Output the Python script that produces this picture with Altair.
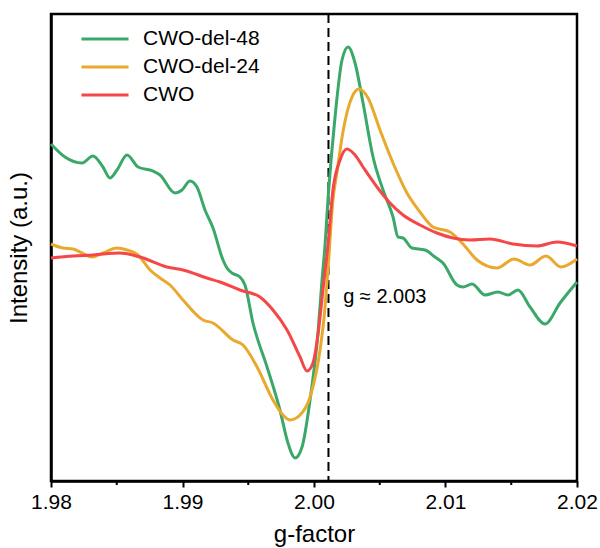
import altair as alt
import pandas as pd

# ---- data (g-factor, intensity a.u.) ----
g_48 = [1.98000, 1.98106, 1.98236, 1.98319, 1.98395, 1.98449, 1.98502, 1.98578, 1.98662, 1.98776,
        1.98829, 1.98943, 1.98996, 1.99057, 1.99110, 1.99171, 1.99232, 1.99308, 1.99338, 1.99376,
        1.99437, 1.99475, 1.99536, 1.99643, 1.99741, 1.99802, 1.99856, 1.99909, 1.99970, 2.00030,
        2.00061, 2.00084, 2.00106, 2.00160, 2.00213, 2.00259, 2.00312, 2.00373, 2.00449, 2.00525,
        2.00601, 2.00639, 2.00677, 2.00745, 2.00844, 2.00920, 2.00981, 2.01087, 2.01133, 2.01202,
        2.01300, 2.01399, 2.01475, 2.01551, 2.01643, 2.01757, 2.01871, 2.02000]
i_48 = [337, 324, 318, 325, 314, 303, 311, 326, 314, 310,
        306, 288, 291, 300, 294, 271, 253, 221, 213, 208,
        204, 196, 158, 114, 71, 38, 23, 34, 81, 148,
        201, 236, 281, 364, 421, 434, 418, 378, 324, 291,
        264, 244, 243, 233, 231, 224, 218, 196, 194, 197,
        186, 189, 186, 191, 174, 157, 178, 199]

g_24 = [1.98000, 1.98091, 1.98167, 1.98236, 1.98312, 1.98395, 1.98502, 1.98578, 1.98662, 1.98753,
        1.98829, 1.98905, 1.99004, 1.99156, 1.99232, 1.99384, 1.99460, 1.99567, 1.99688, 1.99764,
        1.99817, 1.99894, 1.99970, 2.00046, 2.00076, 2.00106, 2.00144, 2.00175, 2.00220, 2.00289,
        2.00342, 2.00411, 2.00502, 2.00601, 2.00707, 2.00806, 2.00905, 2.01034, 2.01133, 2.01240,
        2.01392, 2.01521, 2.01643, 2.01764, 2.01878, 2.02000]
i_24 = [237, 233, 232, 228, 224, 228, 233, 231, 226, 211,
        203, 196, 181, 161, 158, 141, 136, 114, 81, 66,
        61, 66, 84, 131, 163, 211, 281, 309, 349, 384,
        392, 383, 351, 318, 288, 269, 254, 249, 237, 221,
        213, 222, 216, 225, 214, 222]

g_cwo = [1.98000, 1.98167, 1.98319, 1.98525, 1.98677, 1.98882, 1.99004, 1.99186, 1.99285, 1.99437,
         1.99589, 1.99688, 1.99795, 1.99894, 1.99947, 1.99992, 2.00030, 2.00068, 2.00106, 2.00144,
         2.00198, 2.00251, 2.00312, 2.00373, 2.00479, 2.00578, 2.00677, 2.00806, 2.00935, 2.01057,
         2.01186, 2.01338, 2.01513, 2.01696, 2.01848, 2.02000]
i_cwo = [223, 225, 226, 228, 224, 214, 211, 203, 199, 191,
         184, 171, 151, 124, 110, 118, 146, 191, 236, 291,
         321, 332, 326, 314, 294, 278, 266, 256, 248, 243,
         241, 242, 237, 235, 239, 235]

series_names = ["CWO-del-48", "CWO-del-24", "CWO"]
series_colors = ["#3aa868", "#e8a92c", "#f54747"]

x_ticks = [1.98, 1.99, 2.00, 2.01, 2.02]
x_minor = [1.985, 1.995, 2.005, 2.015]
g_marker = [2.0011]
note_text = ["g \u2248 2.003"]
note_g = [2.00222]
note_i = [184]

rows = []
for name, gs, vs in zip(series_names, [g_48, g_24, g_cwo], [i_48, i_24, i_cwo]):
    for k, (g, v) in enumerate(zip(gs, vs)):
        rows.append({"series": name, "g": g, "I": v, "order": k})
df = pd.DataFrame(rows)

FONT = "Liberation Sans"
xscale = alt.Scale(domain=[1.98, 2.02], nice=False, zero=False)
yscale = alt.Scale(domain=[0, 467], nice=False, zero=False)

lines = alt.Chart(df).mark_line(strokeWidth=3, interpolate="monotone").encode(
    x=alt.X("g:Q", scale=xscale,
            axis=alt.Axis(title="g-factor", values=x_ticks, format=".2f", grid=False,
                          tickSize=6, tickWidth=2, tickColor="black",
                          domainColor="black", domainWidth=2.5,
                          labelFont=FONT, labelFontSize=21, labelColor="black", labelPadding=4,
                          labelFlush=False,
                          titleFont=FONT, titleFontSize=24, titleFontWeight="normal",
                          titleColor="black", titlePadding=10)),
    y=alt.Y("I:Q", scale=yscale,
            axis=alt.Axis(title="Intensity (a.u.)", ticks=False, labels=False, grid=False,
                          domainColor="black", domainWidth=2.5,
                          titleFont=FONT, titleFontSize=24, titleFontWeight="normal",
                          titleColor="black", titlePadding=20)),
    color=alt.Color("series:N",
                    scale=alt.Scale(domain=series_names, range=series_colors),
                    legend=alt.Legend(title=None, orient="none", legendX=42, legendY=13,
                                      symbolType="M-2.24,0H2.24", symbolSize=441,
                                      symbolStrokeWidth=3, labelOffset=26, rowPadding=6,
                                      labelFont=FONT, labelFontSize=21, labelColor="black",
                                      padding=0)),
    order=alt.Order("order:Q"),
    detail="series:N",
)

minor_df = pd.DataFrame({"g": x_minor})
minor = alt.Chart(minor_df).mark_rule(color="black", strokeWidth=2).encode(
    x=alt.X("g:Q", scale=xscale),
    y=alt.Y(datum=0, scale=yscale),
    y2=alt.Y2(datum=-4),
)

marker_df = pd.DataFrame({"g": g_marker})
marker = alt.Chart(marker_df).mark_rule(color="black", strokeWidth=2, strokeDash=[9, 5]).encode(
    x=alt.X("g:Q", scale=xscale)
)

note_df = pd.DataFrame({"g": note_g, "I": note_i, "t": note_text})
note = alt.Chart(note_df).mark_text(align="left", baseline="middle", font=FONT,
                                    fontSize=20, color="black").encode(
    x=alt.X("g:Q", scale=xscale),
    y=alt.Y("I:Q", scale=yscale),
    text="t:N",
)

chart = alt.layer(marker, lines, minor, note).properties(
    width=526, height=467,
    autosize=alt.AutoSizeParams(type="none"),
    padding={"left": 51, "top": 14, "right": 23, "bottom": 67},
    background="white",
).configure_view(stroke="black", strokeWidth=2.5)

chart.save("out.html", embed_options={"renderer": "svg", "actions": False})
